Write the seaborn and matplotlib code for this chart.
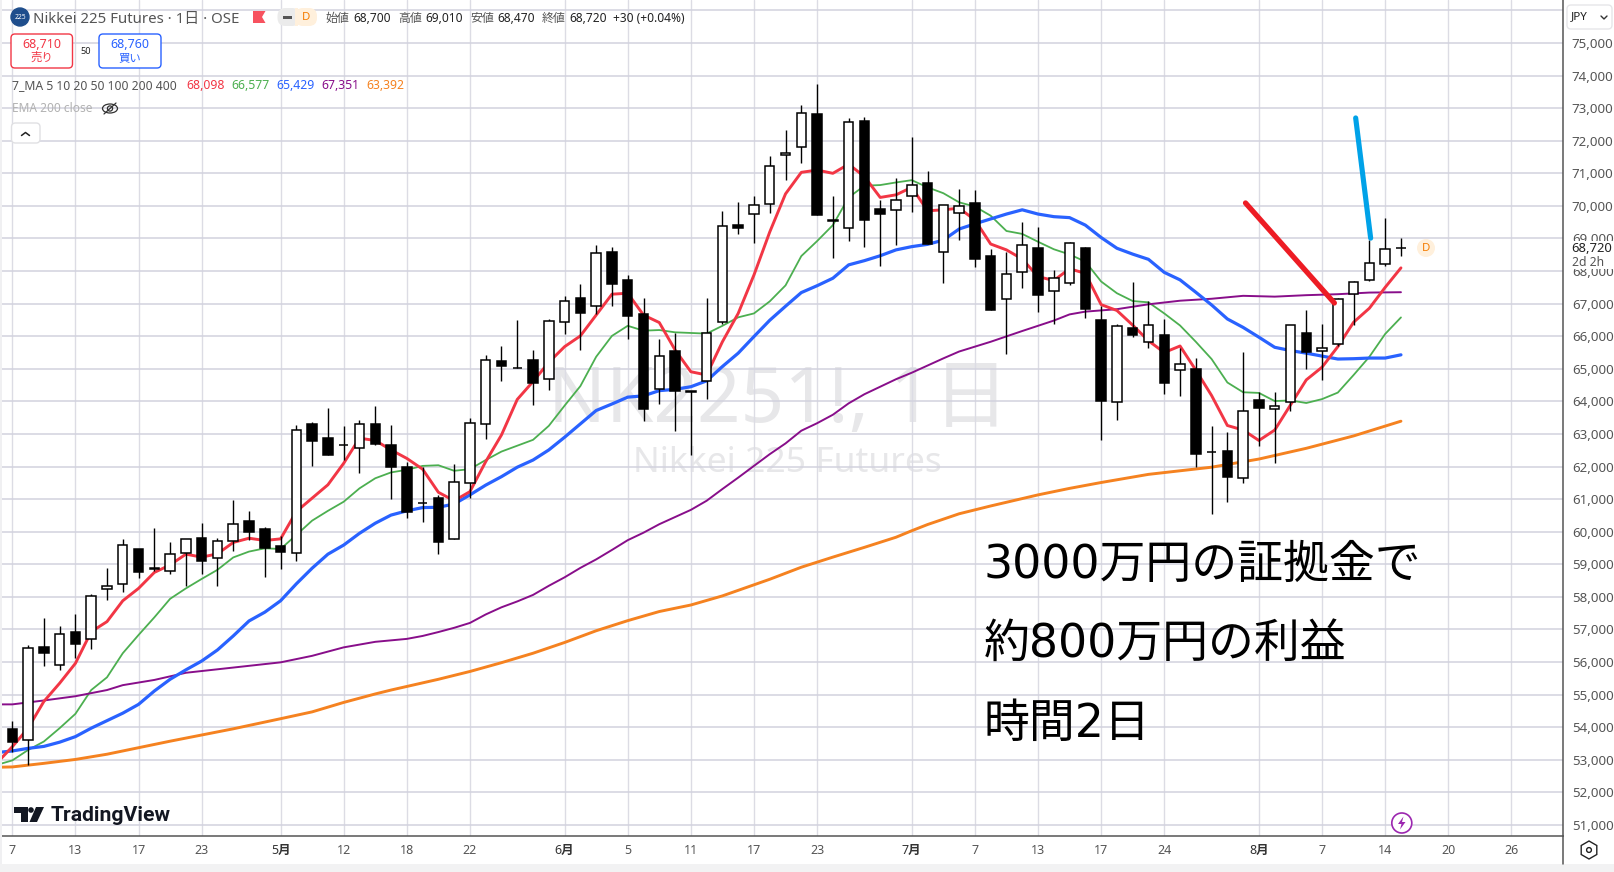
import numpy as np
import pandas as pd
import matplotlib
matplotlib.use("Agg")
import matplotlib.pyplot as plt
import seaborn as sns
from matplotlib.patches import Circle, FancyBboxPatch, Polygon, Rectangle, RegularPolygon, Ellipse

W, H = 1614, 872
CJK = ["Noto Sans", "Noto Sans CJK JP"]
BIG = ["DejaVu Sans", "Noto Sans CJK JP"]

# daily candles, bar 0 is the "7" on the left
open_ = [53940, 53600, 56450, 55900, 56910, 56700, 58230, 58390, 59470, 58860,
         58780, 59360, 59810, 59180, 59730, 60330, 60090, 59560, 59360, 63310,
         62880, 62660, 62580, 63310, 62660, 61990, 60870, 61040, 59790, 61480,
         63300, 65240, 65010, 65260, 64680, 66430, 67160, 66920, 68580, 67720,
         66670, 64370, 65540, 64300, 64620, 66430, 69420, 69740, 70050, 71550,
         71800, 72810, 69550, 69310, 72600, 69900, 69860, 70290, 70690, 68580,
         69790, 70080, 68450, 67130, 67960, 68720, 67380, 67620, 68720, 66500,
         63970, 66250, 65810, 66030, 64950, 64990, 62440, 62470, 61640, 64030,
         63760, 63990, 66090, 65540, 65750, 67290, 67720, 68210, 68700]
high = [54190, 56530, 57350, 57110, 57480, 58090, 58890, 59780, 59470, 60120,
        59690, 59770, 60270, 59810, 60980, 60640, 60150, 59870, 63280, 63370,
        63800, 63250, 63430, 63860, 63280, 62150, 61980, 61130, 62080, 63480,
        65430, 65700, 66500, 65580, 66530, 67240, 67600, 68800, 68740, 67870,
        67160, 65920, 66100, 64310, 67160, 69840, 70120, 70300, 71530, 72330,
        73100, 73740, 70300, 72690, 72730, 70180, 70850, 72120, 71060, 70020,
        70520, 70490, 68670, 68600, 69500, 69340, 68030, 68880, 68750, 66930,
        66380, 67670, 67080, 66530, 65640, 65330, 63240, 63060, 65520, 64280,
        64280, 66340, 66800, 66380, 67160, 67680, 68950, 69630, 69010]
low = [53250, 52840, 55890, 55770, 56120, 56410, 57910, 58160, 58590, 58780,
       58700, 58340, 58700, 58340, 59410, 59750, 58610, 58860, 59110, 62020,
       62360, 62200, 61810, 62660, 61010, 60430, 60310, 59330, 59790, 61030,
       62860, 64640, 65010, 63900, 64360, 66080, 65590, 66690, 66940, 65900,
       63410, 63930, 63100, 62360, 64080, 66370, 69150, 68870, 69790, 70810,
       71330, 69730, 68410, 68930, 68750, 68170, 68810, 69820, 68830, 67640,
       68960, 68140, 66790, 65440, 67490, 66750, 66360, 67580, 66570, 62800,
       63440, 65990, 65650, 64240, 64180, 62000, 60530, 60920, 61480, 62640,
       62120, 63690, 64980, 64670, 65690, 66330, 67680, 68160, 68470]
close = [53560, 56420, 56290, 56850, 56540, 58020, 58330, 59580, 58770, 58880,
         59310, 59770, 59110, 59710, 60230, 59990, 59500, 59380, 63110, 62790,
         62360, 62670, 63300, 62690, 61990, 60620, 60880, 59670, 61520, 63330,
         65260, 65100, 65020, 64550, 66460, 67070, 66720, 68550, 67610, 66630,
         63780, 65380, 64310, 64310, 66090, 69370, 69330, 70020, 71220, 71610,
         72840, 69730, 69560, 72570, 69580, 69760, 70170, 70630, 68830, 70020,
         69990, 68380, 66790, 67900, 68790, 67250, 67780, 68850, 66830, 64020,
         66310, 66050, 66340, 64550, 65140, 62370, 62450, 61690, 63700, 63810,
         63870, 66340, 65530, 65630, 67130, 67660, 68240, 68670, 68720]

# moving averages, every bar from -1 (cut off by the left edge) to 88
ma_bars = list(range(-1, 89))
ma_red = [52890, 53400, 53970, 54790, 55350, 55960, 56930, 57240, 57880, 58260,
          58750, 58980, 59310, 59220, 59320, 59670, 59800, 59730, 59780, 60620,
          61030, 61440, 62100, 62870, 62800, 62510, 62250, 61920, 61210, 60950,
          61230, 62150, 62970, 64060, 64610, 65200, 65680, 66010, 66650, 67290,
          67320, 66650, 66420, 65580, 64910, 64810, 65830, 66700, 67880, 69200,
          70370, 71030, 71100, 71000, 71280, 70900, 70260, 70340, 70570, 69850,
          69880, 69930, 69570, 68830, 68650, 68370, 67830, 67710, 68070, 67930,
          66970, 66790, 66340, 65860, 65500, 65700, 64960, 64180, 63260, 63120,
          62800, 63120, 63890, 64660, 65050, 65680, 66430, 66860, 67500, 68098]
ma_green = [52840, 52980, 53300, 53560, 53970, 54410, 55140, 55530, 56270, 56830,
            57370, 57940, 58260, 58550, 58830, 59210, 59390, 59490, 59470, 59900,
            60340, 60640, 60920, 61330, 61640, 61820, 61900, 62020, 62040, 61870,
            61920, 62200, 62460, 62640, 62820, 63250, 63870, 64470, 65370, 66010,
            66320, 66170, 66190, 66120, 66100, 66080, 66320, 66580, 66700, 67070,
            67560, 68460, 68920, 69410, 70260, 70620, 70640, 70720, 70790, 70570,
            70390, 70110, 69980, 69700, 69230, 69140, 68900, 68670, 68510, 68290,
            67680, 67320, 67080, 67040, 66700, 66330, 65830, 65300, 64580, 64280,
            64260, 64010, 64030, 63950, 64070, 64270, 64810, 65370, 66070, 66577]
ma_blue = [53220, 53270, 53350, 53410, 53540, 53710, 53970, 54200, 54430, 54700,
           55110, 55470, 55760, 56030, 56370, 56800, 57260, 57530, 57880, 58400,
           58880, 59310, 59590, 59950, 60260, 60510, 60640, 60740, 60750, 60850,
           61130, 61430, 61690, 61980, 62200, 62510, 62900, 63310, 63720, 63920,
           64130, 64170, 64330, 64370, 64450, 64630, 65070, 65480, 65990, 66490,
           66920, 67340, 67550, 67780, 68190, 68320, 68470, 68650, 68750, 68820,
           68950, 69290, 69450, 69600, 69750, 69880, 69750, 69670, 69640, 69410,
           69030, 68700, 68520, 68360, 67960, 67730, 67350, 66960, 66530, 66270,
           65970, 65660, 65560, 65480, 65390, 65300, 65310, 65330, 65330, 65429]

purple_bars = [-1, 0, 2, 4, 6, 7, 9, 11, 14, 17, 19, 21, 23, 25, 26, 27, 28, 29, 30, 31,
               32, 33, 34, 35, 36, 37, 38, 39, 40, 41, 42, 43, 44, 45, 46, 47, 48, 49, 50, 51,
               52, 53, 54, 55, 56, 57, 58, 59, 60, 61, 62, 64, 66, 67, 68, 70, 72, 74, 76, 78,
               80, 82, 84, 86, 88]
ma_purple = [54700, 54700, 54820, 54950, 55140, 55290, 55450, 55670, 55830, 55990, 56190, 56450, 56620, 56710, 56800, 56920, 57050, 57200, 57460, 57680,
             57860, 58060, 58340, 58600, 58890, 59150, 59440, 59740, 59970, 60230, 60450, 60670, 60950, 61310, 61660, 62020, 62380, 62710, 63100, 63330,
             63590, 63940, 64220, 64450, 64680, 64880, 65100, 65320, 65530, 65680, 65830, 66160, 66480, 66670, 66755, 66830, 66980, 67090, 67150, 67240,
             67215, 67260, 67290, 67340, 67351]
orange_bars = [-1, 0, 2, 4, 6, 8, 10, 12, 14, 17, 19, 21, 23, 24, 27, 29, 31, 33, 35, 37,
               39, 41, 43, 45, 48, 50, 52, 54, 56, 57, 58, 60, 62, 65, 67, 69, 72, 76, 79, 82, 85, 88]
ma_orange = [52770, 52780, 52890, 53010, 53170, 53370, 53570, 53760, 53950, 54260, 54470, 54760, 55020, 55140, 55470, 55710, 55980, 56270, 56600, 56960,
             57270, 57550, 57750, 58030, 58540, 58910, 59220, 59520, 59830, 60030, 60220, 60550, 60790, 61130, 61330, 61510, 61760, 61980, 62230, 62560, 62940, 63392]

# hand drawn strokes on the chart
blue_stroke_bars = [85.13, 86.08]
blue_stroke_price = [72700, 69010]
red_stroke_bars = [78.15, 83.78]
red_stroke_price = [70090, 67020]

price_ticks = list(range(51000, 76001, 1000))
date_bars = [0, 4, 8, 12, 17, 21, 25, 29, 35, 39, 43, 47, 51, 57, 61, 65, 69, 73, 79, 83, 87, 91, 95]
date_labels = ["7", "13", "17", "23", "5月", "12", "18", "22", "6月", "5", "11", "17",
               "23", "7月", "7", "13", "17", "24", "8月", "7", "14", "20", "26"]

sns.set_theme(style="white")
plt.rcParams["font.family"] = CJK

fig = plt.figure(figsize=(W / 100, H / 100), dpi=100, facecolor="white")
ax = fig.add_axes([2 / W, 1 - 836 / H, 1560.7 / W, 836 / H], facecolor="none")
ax.set_axisbelow(True)

# watermark sits behind the grid
fig.text(548 / W, 1 - 422 / H, "NK2251!, 1日", fontsize=55, color="#e7e7e9", family=CJK, zorder=-1)
fig.text(633 / W, 1 - 472 / H, "Nikkei 225 Futures", fontsize=25.5, color="#e7e7e9", family=CJK, zorder=-1)

ma_df = pd.DataFrame({"bar": ma_bars, "red": ma_red, "green": ma_green, "blue": ma_blue})
sns.lineplot(data=ma_df, x="bar", y="green", ax=ax, color="#4caf50", linewidth=1.3, zorder=2)
sns.lineplot(x=purple_bars, y=ma_purple, ax=ax, color="#880e8a", linewidth=1.4, zorder=2)
sns.lineplot(x=orange_bars, y=ma_orange, ax=ax, color="#f58220", linewidth=2.1, zorder=2)
sns.lineplot(data=ma_df, x="bar", y="blue", ax=ax, color="#2962ff", linewidth=2.3, zorder=2)
sns.lineplot(data=ma_df, x="bar", y="red", ax=ax, color="#f23645", linewidth=2.1, zorder=2)

bars = np.arange(len(open_))
o, c = np.array(open_), np.array(close)
ax.vlines(bars, low, high, color="black", linewidth=1.0, zorder=4)
ax.bar(bars, np.abs(c - o), bottom=np.minimum(o, c), width=0.6,
       color=["white" if b >= a else "black" for a, b in zip(open_, close)],
       edgecolor="black", linewidth=1.1, zorder=5)

sns.lineplot(x=blue_stroke_bars, y=blue_stroke_price, ax=ax, color="#00a2e8", linewidth=3.7, zorder=6)
sns.lineplot(x=red_stroke_bars, y=red_stroke_price, ax=ax, color="#ed1c24", linewidth=3.8, zorder=6)

ax.set_xlim(-0.653, 98.25)
ax.set_ylim(50660, 76320)
ax.set_xlabel("")
ax.set_ylabel("")
ax.yaxis.tick_right()
ax.set_yticks(price_ticks)
# the 76,000 line has no label, the currency box sits there
ax.set_yticklabels([f"{p:,}" if p < 76000 else "" for p in price_ticks], fontsize=9.6, color="#555555")
ax.set_xticks(date_bars)
ax.set_xticklabels(date_labels, fontsize=9, color="#555555")
for lab in ax.get_xticklabels():
    if "月" in lab.get_text():
        lab.set_fontweight("bold")
        lab.set_color("#333333")
ax.tick_params(axis="both", length=0)
ax.tick_params(axis="y", pad=6.6)
ax.tick_params(axis="x", pad=5.5)
ax.xaxis.grid(True, color="#dcdce4", linewidth=1.0)
ax.yaxis.grid(True, color="#d2d2de", linewidth=1.1)
for side in ["top", "left"]:
    ax.spines[side].set_visible(False)
for side in ["right", "bottom"]:
    ax.spines[side].set_color("#555555")
    ax.spines[side].set_linewidth(1.1)

# overlay in pixel coordinates for the toolbar bits
ov = fig.add_axes([0, 0, 1, 1], facecolor="none", zorder=10)
ov.set_xlim(0, W)
ov.set_ylim(H, 0)
ov.axis("off")


def label(x, y, s, size=8.8, color="#555555", ha="left", **kw):
    ov.text(x, y, s, fontsize=size, color=color, ha=ha, va="center", **kw)


def round_box(x0, y0, x1, y1, edge, face="white", r=4, lw=1.0):
    ov.add_patch(FancyBboxPatch((x0 + r, y0 + r), x1 - x0 - 2 * r, y1 - y0 - 2 * r,
                                boxstyle=f"round,pad={r},rounding_size={r}",
                                edgecolor=edge, facecolor=face, linewidth=lw))


ov.add_patch(Rectangle((0, 0), 2, H, color="#f0f0f2", lw=0))
ov.add_patch(Rectangle((0, 864), W, 8, color="#f2f2f3", lw=0))
ov.plot([1562.7, 1562.7], [836, 864], color="#555555", lw=1.1)

# header
ov.add_patch(Circle((20, 17), 9, color="#1f4e8c"))
label(20, 17.3, "225", size=4.8, color="white", ha="center", fontweight="bold")
label(33, 19.2, "Nikkei 225 Futures · 1日 · OSE", size=10.8)
ov.add_patch(Polygon([(253, 11), (265.5, 11), (262, 17), (265.5, 23), (253, 23)], color="#f7525f", lw=0))
round_box(277.5, 8, 300, 26, "none", "#ebebeb", r=8)
round_box(295, 8, 317, 26, "none", "#fff0dc", r=8)
ov.add_patch(Rectangle((295, 8), 3, 18, color="#fff0dc", lw=0))
ov.add_patch(Rectangle((283, 16), 9, 2.6, color="#555555", lw=0))
label(306, 18, "D", size=8.2, color="#f57c00", ha="center")
for x, name, x2, value in [(325.5, "始値", 353, "68,700"), (398, "高値", 425, "69,010"),
                           (470, "安値", 497, "68,470"), (542, "終値", 569, "68,720")]:
    label(x, 18.5, name, size=8.6)
    label(x2, 18.5, value, size=8.6, color="#222222")
label(613, 18.5, "+30 (+0.04%)", size=8.6, color="#222222")

round_box(11, 34, 72.5, 68, "#f23645")
label(41.5, 44, "68,710", size=9, color="#f23645", ha="center")
label(41.5, 58.5, "売り", size=8.2, color="#f23645", ha="center")
label(86, 51, "50", size=6.6, color="#222222", ha="center")
round_box(99, 34, 161, 68, "#2962ff")
label(130, 44, "68,760", size=9, color="#2962ff", ha="center")
label(130, 58.5, "買い", size=8.2, color="#2962ff", ha="center")

label(11.5, 85.5, "7_MA 5 10 20 50 100 200 400", size=8.8)
for x, value, col in [(186, "68,098", "#f23645"), (231, "66,577", "#4caf50"), (276, "65,429", "#2962ff"),
                      (321, "67,351", "#880e8a"), (366, "63,392", "#f58220")]:
    label(x, 85.5, value, size=8.8, color=col)
label(11.5, 109, "EMA 200 close", size=8.6, color="#b2b2b2")
ov.add_patch(Ellipse((110, 108.5), 15, 9, fill=False, edgecolor="#333333", lw=0.9))
ov.add_patch(Circle((110, 108.5), 2.6, fill=False, edgecolor="#333333", lw=0.9))
ov.plot([104, 116], [114, 103], color="#333333", lw=0.9)
round_box(11.5, 123, 40, 143, "#e0e0e3")
ov.plot([21.5, 25.5, 29.5], [135.5, 132.5, 135.5], color="#222222", lw=1.1)

# right scale widgets
round_box(1567, 5, 1612, 29, "#e6e6e9", r=4)
label(1570.5, 17, "JPY", size=8.4, color="#222222")
ov.plot([1601, 1604, 1607], [16, 19, 16], color="#333333", lw=1.0)
ov.add_patch(Rectangle((1564, 241), 50, 28, color="white", lw=0))
label(1571.5, 248, "68,720", size=9.4, color="#222222")
label(1571.5, 262, "2d 2h", size=8.8, color="#555555")
ov.add_patch(Circle((1426, 248), 9, color="#fff0dc", lw=0))
label(1426, 248, "D", size=8.2, color="#f57c00", ha="center")

# logo, bolt and settings
ov.add_patch(Polygon([(14, 807), (28, 807), (28, 822), (21, 822), (21, 813), (14, 813)], color="#131722", lw=0))
ov.add_patch(Circle((31, 810), 2.8, color="#131722", lw=0))
ov.add_patch(Polygon([(36, 807), (44, 807), (37, 822), (29.5, 822)], color="#131722", lw=0))
label(50.5, 815, "TradingView", size=15.2, color="#131722", fontweight="semibold", family="Roboto")
ov.add_patch(Circle((1401.8, 823), 10, fill=True, facecolor="white", edgecolor="#9c27b0", lw=1.2))
ov.add_patch(Polygon([(1403.5, 816.5), (1398, 824), (1401.5, 824), (1400, 829.5), (1405.5, 822), (1402, 822)],
                     color="#9c27b0", lw=0))
ov.add_patch(RegularPolygon((1589, 850), 6, radius=9, fill=False, edgecolor="#222222", lw=1.0))
ov.add_patch(Circle((1589, 850), 2.4, fill=False, edgecolor="#222222", lw=1.0))

# big note written over the chart
for y, line in [(578, "3000万円の証拠金で"), (657, "約800万円の利益"), (737, "時間2日")]:
    ov.text(983.5, y, line, fontsize=33, color="black", family=BIG, ha="left", va="baseline")

fig.savefig("out.png", dpi=100)
